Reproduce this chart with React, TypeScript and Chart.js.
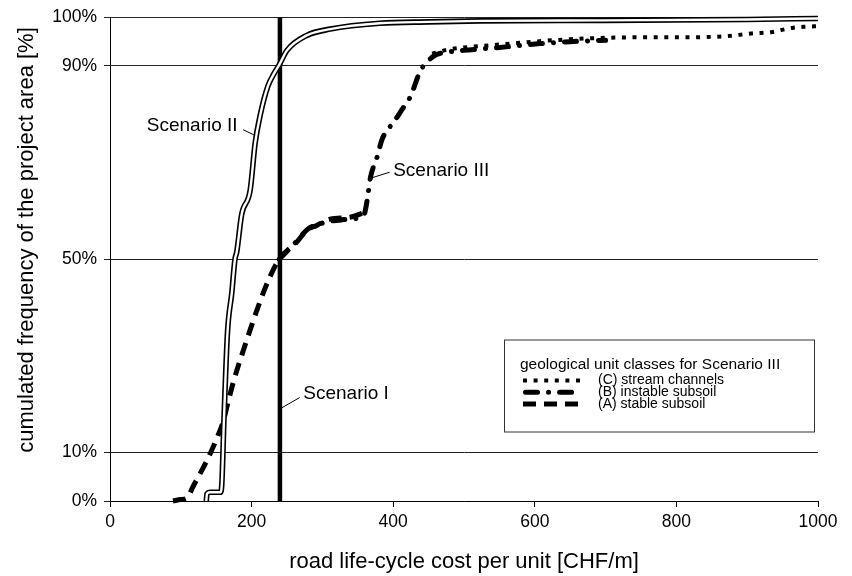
import React, { useEffect, useRef } from "react";
import { Chart, registerables } from "chart.js";

Chart.register(...registerables);

const FONT = '"Liberation Sans", Arial, Helvetica, sans-serif';

// ---- axis ticks ----
const xTickValues = [0, 200, 400, 600, 800, 1000];
const yTickValues = [0, 10, 50, 90, 100];

// ---- Scenario I (uniform cost) ----
const scenarioIX = [240, 240];
const scenarioIY = [0, 100];

// ---- Scenario II ----
const scenarioIIX = [136, 137, 141, 156, 158, 161, 166, 172, 176.5, 179, 186, 198, 205, 212, 223, 232, 239, 250, 278, 311, 381, 450, 523, 700, 900, 1000];
const scenarioIIY = [0, 1.5, 1.8, 1.8, 3.7, 17, 35, 43, 50, 51.5, 59.3, 64.3, 74, 79.7, 85.8, 88.5, 90.2, 93.2, 96.3, 97.6, 98.8, 99.1, 99.3, 99.4, 99.6, 99.8];

// ---- Scenario III, by geological unit class ----
const classAX = [89, 100, 109, 117, 137, 151, 160, 166, 175, 188, 212, 226, 239, 264, 278, 292, 311, 339, 360];
const classAY = [0, 0.3, 0.6, 2.9, 8.4, 13, 16.5, 20, 25, 31, 41.3, 46.4, 50, 53.6, 56, 57, 58.3, 58.7, 59.7];

const classBX = [239, 264, 280, 300, 330, 355, 360, 364, 368, 373, 377, 384, 391, 400, 414, 422, 428, 438, 446, 459, 475, 499, 550, 607, 650, 700];
const classBY = [50, 53.8, 56.3, 57.5, 58.2, 58.8, 59.7, 63, 67, 69.5, 71, 74.7, 76.6, 78.2, 81.3, 83, 85, 88.9, 90.5, 92.2, 92.8, 93.2, 93.8, 94.6, 95, 95.3];

const classCX = [455, 475, 500, 550, 607, 650, 700, 750, 800, 850, 876, 906, 936, 951, 965, 981, 1000];
const classCY = [92.5, 93.3, 93.8, 94.4, 95.1, 95.5, 95.8, 95.9, 95.9, 96.0, 96.2, 96.7, 97.0, 97.5, 97.9, 98.1, 98.2];

// ---- texts ----
const xTitle = "road life-cycle cost per unit [CHF/m]";
const yTitle = "cumulated frequency of the project area [%]";
const legendTitle = "geological unit classes for Scenario III";
const legendLabels = ["(C) stream channels", "(B) instable subsoil", "(A) stable subsoil"];

const annotationTexts = ["Scenario II", "Scenario III", "Scenario I"];
// anchors in data units: text start (x,y), leader from (x1,y1) to (x2,y2)
const annotationTextX = [52, 400, 273];
const annotationTextY = [77.6, 68.4, 22.2];
const leaderX1 = [205, 371, 243];
const leaderY1 = [75.6, 66.9, 19.3];
const leaderX2 = [188, 395, 268];
const leaderY2 = [76.8, 68.0, 21.4];

const styleA = { width: 5, dash: [13, 8], cap: "butt" as CanvasLineCap };
const styleB = { width: 5, dash: [12, 11, 0.1, 11], cap: "round" as CanvasLineCap };
const styleC = { width: 4, dash: [4, 6.6], cap: "butt" as CanvasLineCap };

const pts = (xs: number[], ys: number[]) => xs.map((x, i) => ({ x, y: ys[i] }));

const decorPlugin = {
  id: "decor",
  afterDatasetsDraw(chart: any) {
    const ctx = chart.ctx;
    const xs = chart.scales.x;
    const ys = chart.scales.y;
    ctx.save();
    // annotations
    ctx.fillStyle = "#000";
    ctx.strokeStyle = "#000";
    ctx.font = `19px ${FONT}`;
    ctx.textBaseline = "middle";
    ctx.textAlign = "left";
    annotationTexts.forEach((t, i) => {
      ctx.fillText(t, xs.getPixelForValue(annotationTextX[i]), ys.getPixelForValue(annotationTextY[i]));
      ctx.beginPath();
      ctx.lineWidth = 1;
      ctx.setLineDash([]);
      ctx.moveTo(xs.getPixelForValue(leaderX1[i]), ys.getPixelForValue(leaderY1[i]));
      ctx.lineTo(xs.getPixelForValue(leaderX2[i]), ys.getPixelForValue(leaderY2[i]));
      ctx.stroke();
    });

    // legend box
    const ca = chart.chartArea;
    const lx = ca.left + 394;
    const ly = ca.top + 322;
    const lw = 310;
    const lh = 92;
    ctx.fillStyle = "#fff";
    ctx.fillRect(lx, ly, lw, lh);
    ctx.lineWidth = 1;
    ctx.strokeStyle = "#333";
    ctx.strokeRect(lx + 0.5, ly + 0.5, lw, lh);
    ctx.fillStyle = "#000";
    ctx.font = `15.5px ${FONT}`;
    ctx.fillText(legendTitle, lx + 16, ly + 25);
    const styles = [styleC, styleB, styleA];
    ctx.font = `14px ${FONT}`;
    legendLabels.forEach((lab, i) => {
      const yy = ly + 41 + i * 11.8;
      const st = styles[i];
      ctx.beginPath();
      ctx.lineWidth = st.width;
      ctx.lineCap = st.cap;
      ctx.setLineDash(st.dash);
      ctx.strokeStyle = "#000";
      ctx.moveTo(lx + 19 + (st.cap === "round" ? 2.5 : 0), yy);
      ctx.lineTo(lx + 76, yy);
      ctx.stroke();
      ctx.setLineDash([]);
      ctx.fillText(lab, lx + 94, yy);
    });

    // axis titles
    ctx.font = `22px ${FONT}`;
    ctx.textAlign = "center";
    ctx.fillText(xTitle, (ca.left + ca.right) / 2, 562);
    ctx.save();
    ctx.translate(27, 240);
    ctx.rotate(-Math.PI / 2);
    ctx.fillText(yTitle, 0, 0);
    ctx.restore();
    ctx.restore();
  },
};

export default function App() {
  const ref = useRef<HTMLCanvasElement | null>(null);
  useEffect(() => {
    if (!ref.current) return;
    const lineDs = (label: string, data: any[], extra: any) => ({
      label,
      data,
      showLine: true,
      pointRadius: 0,
      pointHoverRadius: 0,
      borderColor: "#000",
      backgroundColor: "#000",
      fill: false,
      clip: false,
      ...extra,
    });
    const chart = new Chart(ref.current, {
      type: "scatter",
      data: {
        datasets: [
          lineDs("Scenario II inner", pts(scenarioIIX, scenarioIIY), { borderColor: "#fff", borderWidth: 2.4, cubicInterpolationMode: "monotone", order: 1 }),
          lineDs("Scenario II", pts(scenarioIIX, scenarioIIY), { borderWidth: 5.6, cubicInterpolationMode: "monotone", order: 2 }),
          lineDs("(A) stable subsoil", pts(classAX, classAY), { borderWidth: styleA.width, borderDash: styleA.dash, borderCapStyle: styleA.cap, cubicInterpolationMode: "monotone", order: 3 }),
          lineDs("(B) instable subsoil", pts(classBX, classBY), { borderWidth: styleB.width, borderDash: styleB.dash, borderCapStyle: styleB.cap, cubicInterpolationMode: "monotone", order: 4 }),
          lineDs("(C) stream channels", pts(classCX, classCY), { borderWidth: styleC.width, borderDash: styleC.dash, borderCapStyle: styleC.cap, cubicInterpolationMode: "monotone", order: 5 }),
          lineDs("Scenario I", pts(scenarioIX, scenarioIY), { borderWidth: 4.5, order: 6 }),
        ],
      },
      options: {
        responsive: false,
        animation: false,
        layout: { padding: { left: 0, top: 14, right: 34, bottom: 0 } },
        plugins: { legend: { display: false }, tooltip: { enabled: false }, title: { display: false } },
        scales: {
          x: {
            type: "linear",
            min: 0,
            max: 1000,
            afterBuildTicks: (s: any) => {
              s.ticks = xTickValues.map((v) => ({ value: v }));
            },
            afterFit: (s: any) => {
              s.height = 75;
            },
            ticks: { color: "#000", font: { family: FONT, size: 17.5 }, padding: 5, maxRotation: 0, autoSkip: false, callback: (v: any) => String(v) },
            grid: { drawOnChartArea: false, drawTicks: true, tickLength: 6, color: "#000", lineWidth: 1 },
            border: { display: true, color: "#000", width: 1 },
          },
          y: {
            type: "linear",
            min: 0,
            max: 100,
            afterBuildTicks: (s: any) => {
              s.ticks = yTickValues.map((v) => ({ value: v }));
            },
            afterFit: (s: any) => {
              s.width = 110;
            },
            ticks: { color: "#000", font: { family: FONT, size: 17.5 }, padding: 7, autoSkip: false, callback: (v: any) => `${v}%` },
            grid: { drawTicks: true, tickLength: 6, color: "#222", lineWidth: 1 },
            border: { display: true, color: "#000", width: 1 },
          },
        },
      },
      plugins: [decorPlugin],
    } as any);
    return () => chart.destroy();
  }, []);
  return (
    <div style={{ position: "absolute", left: 0, top: 0, width: 852, height: 576, background: "#fff" }}>
      <canvas ref={ref} width={852} height={576} />
    </div>
  );
}
